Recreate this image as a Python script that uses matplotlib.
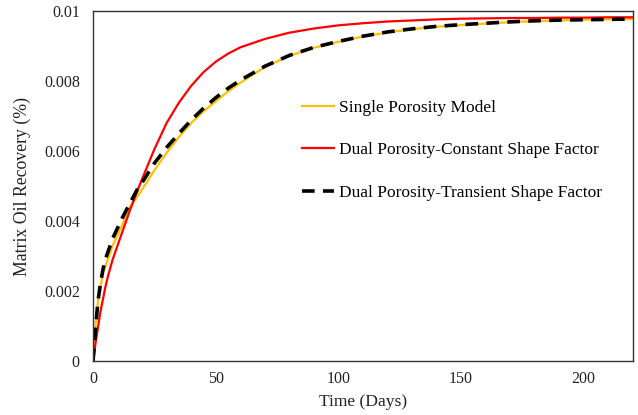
import numpy as np
import matplotlib
matplotlib.use("Agg")
import matplotlib.pyplot as plt
from matplotlib.ticker import FuncFormatter

plt.rcParams['font.family'] = ['Liberation Serif', 'DejaVu Serif']

days = [0, 0.5, 1, 2, 3, 4, 5, 6, 8, 10, 12, 15, 18, 20, 25, 30, 35, 40, 45, 50, 55,
        60, 70, 80, 90, 100, 110, 120, 130, 140, 150, 160, 170, 180, 190, 200, 210, 220]

single_porosity = [0, 0.0006, 0.0010, 0.0017, 0.0021, 0.0025, 0.0027, 0.0029, 0.0033, 0.0036,
                   0.0039, 0.0044, 0.0047, 0.0049, 0.00545, 0.00595, 0.0064, 0.0068, 0.00713, 0.00742, 0.0077,
                   0.00795, 0.0084, 0.00872, 0.00895, 0.00912, 0.00927, 0.00939, 0.00948, 0.00955, 0.0096,
                   0.00964, 0.00968, 0.00971, 0.00973, 0.00975, 0.00976, 0.00977]

constant_sf = [0, 0.00025, 0.0005, 0.00095, 0.0014, 0.00175, 0.0021, 0.0024, 0.0029, 0.0033,
               0.0037, 0.0043, 0.00485, 0.0052, 0.00605, 0.0068, 0.00738, 0.00786, 0.00825, 0.00855, 0.00878,
               0.00896, 0.0092, 0.00938, 0.0095, 0.00959, 0.00965, 0.0097, 0.00973, 0.00976, 0.00978,
               0.00979, 0.0098, 0.0098, 0.00981, 0.00981, 0.00982, 0.00982]

transient_sf = [0, 0.0004, 0.0009, 0.0017, 0.0022, 0.0026, 0.0029, 0.0031, 0.0035, 0.0038,
                0.0041, 0.0045, 0.0049, 0.0051, 0.00565, 0.0061, 0.0065, 0.00688, 0.00722, 0.00752, 0.00779,
                0.00802, 0.00842, 0.00873, 0.00896, 0.00913, 0.00928, 0.0094, 0.00949, 0.00956, 0.00961,
                0.00965, 0.00969, 0.00972, 0.00974, 0.00975, 0.00976, 0.00977]

labels = ["Single Porosity Model",
          "Dual Porosity-Constant Shape Factor",
          "Dual Porosity-Transient Shape Factor"]

fig = plt.figure(figsize=(6.38, 4.15), dpi=100)
ax = fig.add_axes([0.1458, 0.130, 0.8459, 0.8435])

ax.plot(days, single_porosity, color='#FFC000', lw=1.6, label=labels[0])
ax.plot(days, constant_sf, color='#FF0000', lw=1.6, label=labels[1])
ax.plot(days, transient_sf, color='black', lw=2.6, dashes=(3.5, 2.3), label=labels[2])

ax.set_xlim(0, 220)
ax.set_ylim(0, 0.01)
ax.set_xticks([0, 50, 100, 150, 200])
ax.set_yticks([0, 0.002, 0.004, 0.006, 0.008, 0.01])
ax.yaxis.set_major_formatter(FuncFormatter(lambda v, p: '%g' % v))
ax.tick_params(length=0, labelsize=11.5, colors='#222222')
ax.tick_params(axis='x', pad=7)
ax.tick_params(axis='y', pad=9.5)
for s in ax.spines.values():
    s.set_color('#333333')
    s.set_linewidth(1.0)

ax.set_xlabel("Time (Days)", fontsize=12.6, labelpad=5, color='#222222')
ax.set_ylabel("Matrix Oil Recovery (%)", fontsize=12.8, labelpad=9, color='#222222')

ax.legend(loc='upper left', bbox_to_anchor=(0.358, 0.79), frameon=False,
          fontsize=12.5, labelspacing=1.5, handlelength=1.85, handletextpad=0.3)

fig.savefig("out.png", dpi=100)
